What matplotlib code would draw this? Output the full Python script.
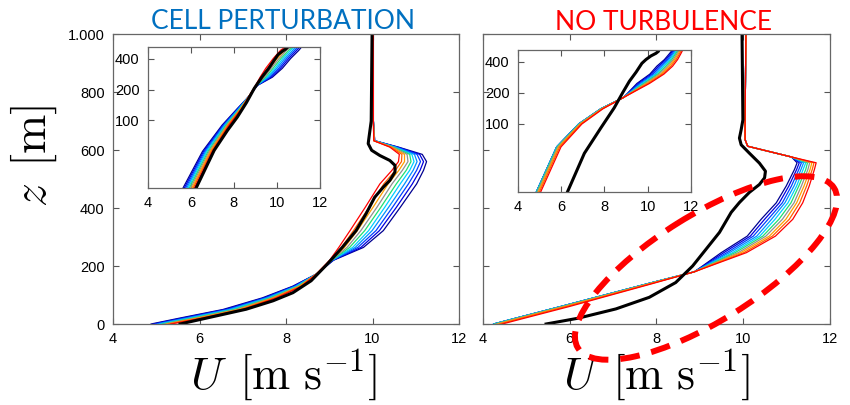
import numpy as np
import matplotlib.pyplot as plt
from matplotlib.patches import Ellipse

plt.rcParams['font.family'] = ['Liberation Sans', 'DejaVu Sans']
plt.rcParams['mathtext.fontset'] = 'cm'

# line colours, blue -> red
colors = ['#000090', '#0000E0', '#0040FF', '#0090FF', '#00D0FF',
          '#20E070', '#909090', '#FFA000', '#FF6000', '#FF0000']

# cell perturbation runs: one row per height, one column per run
left_z = [0, 20, 50, 90, 130, 172, 220, 264, 322, 402, 483, 530, 560, 585, 610, 632, 700, 1000]
left_u = [
    [4.88, 4.93, 4.98, 5.03, 5.08, 5.14, 5.19, 5.24, 5.29, 5.34],
    [5.53, 5.59, 5.65, 5.71, 5.77, 5.83, 5.89, 5.95, 6.01, 6.07],
    [6.54, 6.59, 6.64, 6.69, 6.74, 6.80, 6.85, 6.90, 6.95, 7.00],
    [7.45, 7.49, 7.52, 7.56, 7.60, 7.63, 7.67, 7.71, 7.74, 7.78],
    [8.15, 8.17, 8.20, 8.22, 8.24, 8.27, 8.29, 8.31, 8.34, 8.36],
    [8.70, 8.70, 8.70, 8.70, 8.70, 8.70, 8.70, 8.70, 8.70, 8.70],
    [9.10, 9.09, 9.08, 9.07, 9.06, 9.06, 9.05, 9.04, 9.02, 9.01],
    [9.79, 9.73, 9.66, 9.60, 9.54, 9.47, 9.41, 9.35, 9.28, 9.22],
    [10.25, 10.16, 10.08, 9.99, 9.91, 9.82, 9.73, 9.65, 9.56, 9.48],
    [10.64, 10.55, 10.46, 10.37, 10.28, 10.19, 10.10, 10.01, 9.92, 9.83],
    [11.02, 10.92, 10.83, 10.74, 10.64, 10.55, 10.45, 10.36, 10.26, 10.17],
    [11.18, 11.10, 11.02, 10.94, 10.86, 10.78, 10.69, 10.61, 10.53, 10.45],
    [11.25, 11.18, 11.11, 11.03, 10.96, 10.89, 10.82, 10.74, 10.67, 10.60],
    [11.15, 11.09, 11.03, 10.97, 10.91, 10.86, 10.80, 10.74, 10.68, 10.62],
    [10.60, 10.58, 10.56, 10.53, 10.51, 10.49, 10.47, 10.44, 10.42, 10.40],
    [10.05, 10.05, 10.05, 10.04, 10.04, 10.04, 10.04, 10.03, 10.03, 10.03],
    [10.02, 10.02, 10.02, 10.02, 10.02, 10.02, 10.02, 10.02, 10.02, 10.02],
    [10.02, 10.02, 10.02, 10.02, 10.02, 10.02, 10.02, 10.02, 10.02, 10.02],
]
left_ref_z = [0, 20, 51, 80, 108, 149, 206, 264, 322, 380, 437, 472, 495, 524, 547, 564, 581, 599, 622, 645, 700, 1000]
left_ref_u = [5.55, 6.15, 7.08, 7.70, 8.16, 8.58, 8.95, 9.30, 9.62, 9.85, 10.05, 10.25, 10.40, 10.52,
              10.52, 10.40, 10.17, 9.98, 9.90, 9.92, 9.97, 9.99]

# no turbulence runs
right_z = [0, 20, 60, 100, 140, 180, 246, 303, 361, 418, 476, 533, 556, 576, 613, 636, 700, 1000]
right_u = [
    [4.25, 4.25, 4.25, 4.25, 4.26, 4.27, 4.30, 4.34, 4.39, 4.45],
    [4.76, 4.76, 4.76, 4.76, 4.77, 4.78, 4.81, 4.85, 4.90, 4.96],
    [5.79, 5.79, 5.79, 5.79, 5.80, 5.81, 5.84, 5.88, 5.93, 5.99],
    [6.81, 6.81, 6.81, 6.81, 6.82, 6.83, 6.85, 6.88, 6.92, 6.96],
    [7.83, 7.83, 7.83, 7.83, 7.84, 7.84, 7.86, 7.88, 7.90, 7.93],
    [8.88, 8.88, 8.88, 8.88, 8.88, 8.88, 8.88, 8.88, 8.88, 8.88],
    [9.50, 9.56, 9.63, 9.69, 9.76, 9.82, 9.89, 9.95, 10.02, 10.08],
    [10.10, 10.17, 10.24, 10.32, 10.39, 10.46, 10.53, 10.61, 10.68, 10.75],
    [10.42, 10.50, 10.58, 10.66, 10.74, 10.83, 10.91, 10.99, 11.07, 11.15],
    [10.77, 10.84, 10.91, 10.97, 11.04, 11.11, 11.18, 11.24, 11.31, 11.38],
    [11.00, 11.06, 11.12, 11.18, 11.24, 11.29, 11.35, 11.41, 11.47, 11.53],
    [11.19, 11.24, 11.29, 11.34, 11.39, 11.45, 11.50, 11.55, 11.60, 11.65],
    [11.25, 11.30, 11.35, 11.40, 11.45, 11.49, 11.54, 11.59, 11.64, 11.69],
    [11.12, 11.12, 11.12, 11.12, 11.12, 11.12, 11.12, 11.12, 11.12, 11.12],
    [10.11, 10.11, 10.11, 10.11, 10.11, 10.11, 10.11, 10.11, 10.11, 10.11],
    [10.05, 10.05, 10.05, 10.05, 10.05, 10.05, 10.05, 10.05, 10.05, 10.05],
    [10.05, 10.05, 10.05, 10.05, 10.05, 10.05, 10.05, 10.05, 10.05, 10.05],
    [10.07, 10.07, 10.07, 10.07, 10.07, 10.07, 10.07, 10.07, 10.07, 10.07],
]
right_ref_z = [0, 20, 52, 92, 143, 200, 258, 316, 385, 419, 454, 481, 504, 527, 555, 589, 618, 641, 670, 704, 1000]
right_ref_u = [5.46, 6.20, 7.07, 7.84, 8.45, 8.84, 9.15, 9.46, 9.73, 9.92, 10.15, 10.38, 10.50, 10.52,
               10.38, 10.15, 9.96, 9.92, 9.96, 10.00, 9.98]

x_ticks = [4, 6, 8, 10, 12]
y_ticks = [0, 200, 400, 600, 800, 1000]
y_ticklabels = ['0', '200', '400', '600', '800', '1.000']
inset_ticks = [100, 200, 400]


def style(ax):
    ax.tick_params(direction='in', top=True, right=True, length=4, width=0.8,
                   color='#555555', labelsize=10.5, pad=6)
    for s in ax.spines.values():
        s.set_color('#666666')
        s.set_linewidth(0.9)


def profiles(ax, z, rows, rz, ru, start=0):
    u = np.array(rows).T
    z = np.array(z)
    for k in range(u.shape[0]):
        ax.plot(u[k][start:], z[start:], color=colors[k], lw=0.9)
    ax.plot(ru[start:], rz[start:], color='k', lw=2.2)


fig = plt.figure(figsize=(8.5, 4.05), dpi=100)

ax1 = fig.add_axes([0.133, 0.2, 0.407, 0.716])
ax2 = fig.add_axes([0.568, 0.2, 0.408, 0.716])
for ax, z, rows, rz, ru in [(ax1, left_z, left_u, left_ref_z, left_ref_u),
                            (ax2, right_z, right_u, right_ref_z, right_ref_u)]:
    profiles(ax, z, rows, rz, ru)
    ax.set_xlim(4, 12)
    ax.set_ylim(0, 1000)
    ax.set_xticks(x_ticks)
    ax.set_yticks(y_ticks)
    style(ax)
ax1.set_yticklabels(y_ticklabels)
ax2.set_yticklabels([])

# insets: lower part on a log height axis
in1 = fig.add_axes([0.174, 0.536, 0.2024, 0.348])
in2 = fig.add_axes([0.6094, 0.526, 0.2035, 0.351])
for ax, z, rows, rz, ru in [(in1, left_z, left_u, left_ref_z, left_ref_u),
                            (in2, right_z, right_u, right_ref_z, right_ref_u)]:
    profiles(ax, z, rows, rz, ru, start=1)
    ax.set_yscale('log')
    ax.set_xlim(4, 12)
    ax.set_ylim(22, 520)
    ax.set_xticks(x_ticks)
    ax.set_yticks(inset_ticks)
    ax.set_yticklabels([str(t) for t in inset_ticks])
    ax.yaxis.set_minor_locator(plt.NullLocator())
    style(ax)

fig.text(0.333, 0.947, 'CELL PERTURBATION', color='#0070C0', fontsize=19,
         family='Lato', ha='center', va='center')
fig.text(0.781, 0.944, 'NO TURBULENCE', color='#FF0000', fontsize=19,
         family='Lato', ha='center', va='center')

xlab = r'$U\;\,[\mathrm{m\ s^{-1}}]$'
fig.text(0.334, 0.004, xlab, fontsize=33, ha='center', va='bottom')
fig.text(0.772, 0.004, xlab, fontsize=33, ha='center', va='bottom')
fig.text(0.04, 0.615, r'$z\;\,[\mathrm{m}]$', fontsize=34, rotation=90, ha='center', va='center')

# dashed ring over the no-turbulence panel, in pixel units
over = fig.add_axes([0, 0, 1, 1], zorder=10)
over.set_xlim(0, 850)
over.set_ylim(405, 0)
over.axis('off')
over.patch.set_alpha(0)
over.add_patch(Ellipse((706, 268), 302, 106, angle=-32, fill=False,
                       edgecolor='#FF0000', lw=4.3, linestyle=(0, (3.3, 2))))

fig.savefig('out.png', dpi=100)
